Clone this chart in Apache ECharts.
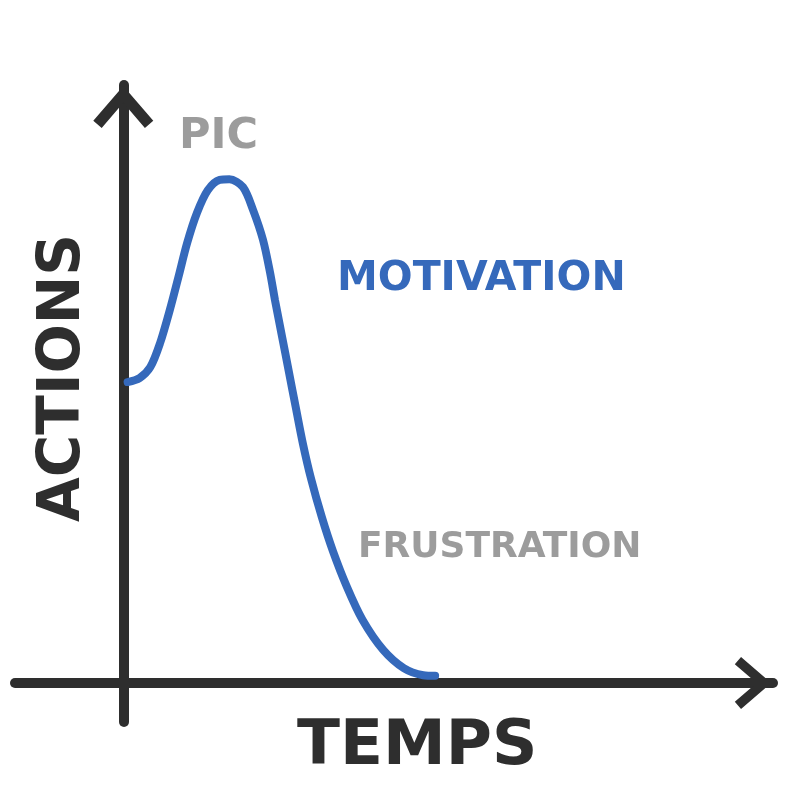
<!DOCTYPE html>
<html>
<head>
<meta charset="utf-8">
<script src="https://cdn.jsdelivr.net/npm/echarts@6/dist/echarts.min.js"></script>
<style>html,body{margin:0;padding:0;background:#fff}#c{width:800px;height:800px}</style>
</head>
<body>
<div id="c"></div>
<script>
// Data (arbitrary units)
var timeValues = [0.04, 0.15, 0.25, 0.34, 0.43, 0.51, 0.59, 0.68, 0.78, 0.89, 0.98, 1.105, 1.198, 1.290, 1.355, 1.401, 1.465, 1.530, 1.594, 1.659, 1.733, 1.834, 1.936, 2.065, 2.21, 2.40, 2.59, 2.77, 2.88];
var actionValues = [4.63, 4.69, 4.86, 5.23, 5.74, 6.25, 6.77, 7.23, 7.58, 7.74, 7.75, 7.63, 7.28, 6.82, 6.32, 5.89, 5.34, 4.78, 4.23, 3.68, 3.15, 2.55, 2.03, 1.48, 0.97, 0.51, 0.23, 0.12, 0.11];
var xTitle = 'TEMPS';
var yTitle = 'ACTIONS';
var peakLabel = 'PIC';
var motivationLabel = 'MOTIVATION';
var frustrationLabel = 'FRUSTRATION';

var INK = '#2e2e2e', BLUE = '#3569bb', GRAY = '#9c9c9c';
var FONT = '"DejaVu Sans", sans-serif';
var chevron = 'path://M50,0 L100,58 L86,70 L50,28 L14,70 L0,58 Z';

var points = timeValues.map(function (t, i) { return [t, actionValues[i]]; });

var chart = echarts.init(document.getElementById('c'), null, {renderer: 'canvas'});
chart.setOption({
  animation: false,
  backgroundColor: '#fff',
  grid: {left: 15, right: 27, top: 85, bottom: 78, containLabel: false, outerBoundsMode: 'none'},
  xAxis: {
    type: 'value', min: -1, max: 6,
    axisLine: {onZero: true, symbol: ['none', chevron], symbolSize: [52, 40], symbolOffset: [0, -20],
      lineStyle: {color: INK, width: 10, cap: 'round'}},
    axisTick: {show: false}, axisLabel: {show: false}, splitLine: {show: false}
  },
  yAxis: {
    type: 'value', min: -0.6, max: 9.2,
    axisLine: {onZero: true, symbol: ['none', chevron], symbolSize: [60, 44], symbolOffset: [0, -22],
      lineStyle: {color: INK, width: 10, cap: 'round'}},
    axisTick: {show: false}, axisLabel: {show: false}, splitLine: {show: false}
  },
  series: [{
    type: 'line', data: points, smooth: 0.3, showSymbol: false, z: 5,
    lineStyle: {color: BLUE, width: 8, cap: 'round'}
  }],
  graphic: [
    {type: 'text', left: 179, top: 115, style: {text: peakLabel, fill: GRAY, font: 'bold 43px ' + FONT}},
    {type: 'text', left: 337, top: 259, style: {text: motivationLabel, fill: BLUE, font: 'bold 41px ' + FONT}},
    {type: 'text', left: 358, top: 530, style: {text: frustrationLabel, fill: GRAY, font: 'bold 36px ' + FONT}},
    {type: 'text', left: 297, top: 716, style: {text: xTitle, fill: INK, font: 'bold 63px ' + FONT}},
    {type: 'text', x: 64, y: 378, rotation: Math.PI / 2,
      style: {text: yTitle, fill: INK, font: 'bold 58px ' + FONT, align: 'center', verticalAlign: 'middle'}}
  ]
});
</script>
</body>
</html>
